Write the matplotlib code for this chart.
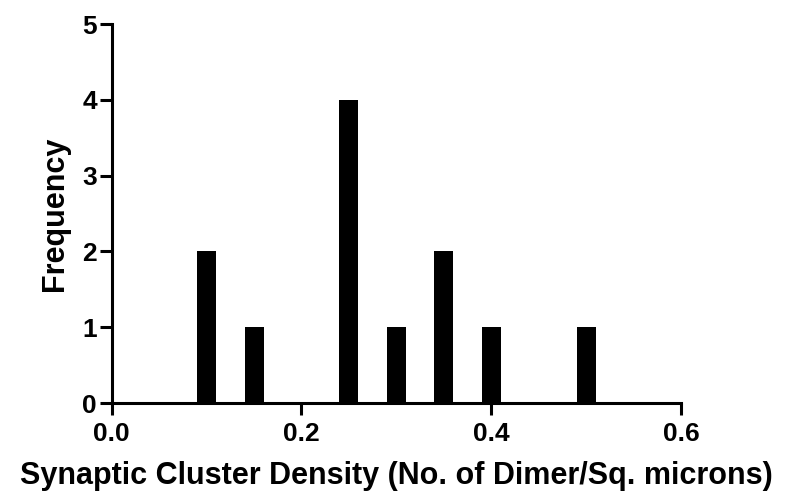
import numpy as np
import matplotlib
matplotlib.use("Agg")
import matplotlib.pyplot as plt

# histogram bins (centres) and counts
bin_centres = [0.10, 0.15, 0.25, 0.30, 0.35, 0.40, 0.50]
counts = [2, 1, 4, 1, 2, 1, 1]
x_ticks = [0.0, 0.2, 0.4, 0.6]
y_ticks = [0, 1, 2, 3, 4, 5]

plt.rcParams['font.family'] = ['Liberation Sans', 'DejaVu Sans']
plt.rcParams['font.weight'] = 'bold'

fig = plt.figure(figsize=(7.85, 4.91), dpi=100)
ax = fig.add_axes([0.1423, 0.179, 0.7252, 0.772])

ax.bar(bin_centres, counts, width=0.02, color='black', align='center')

ax.set_xlim(0, 0.6)
ax.set_ylim(0, 5)
ax.set_xticks(x_ticks)
ax.set_xticklabels(['%.1f' % v for v in x_ticks])
ax.set_yticks(y_ticks)

for s in ['top', 'right']:
    ax.spines[s].set_visible(False)
for s in ['left', 'bottom']:
    ax.spines[s].set_linewidth(2.2)

ax.tick_params(direction='out', length=8.5, width=2.2, labelsize=19)
ax.tick_params(axis='x', pad=5)
ax.tick_params(axis='y', pad=2)
for lab in ax.get_xticklabels() + ax.get_yticklabels():
    lab.set_fontweight('bold')

ax.set_xlabel('Synaptic Cluster Density (No. of Dimer/Sq. microns)',
              fontsize=22, fontweight='bold', labelpad=11)
ax.set_ylabel('Frequency', fontsize=22, fontweight='bold', labelpad=9)

fig.savefig('out.png', dpi=100)
